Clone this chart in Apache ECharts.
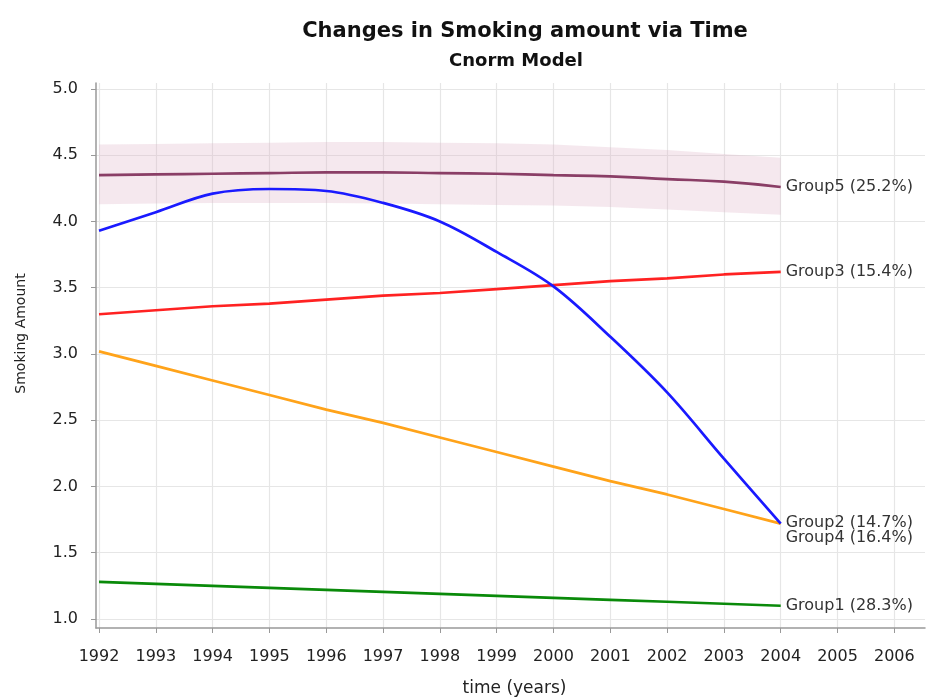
<!DOCTYPE html>
<html>
<head>
<meta charset="utf-8">
<script src="https://cdn.jsdelivr.net/npm/echarts@6/dist/echarts.min.js"></script>
<style>
  html, body { margin: 0; padding: 0; background: #fff; }
  #chart { width: 926px; height: 698px; }
</style>
</head>
<body>
<div id="chart"></div>
<script>
// values
const years = [1992, 1993, 1994, 1995, 1996, 1997, 1998, 1999, 2000, 2001, 2002, 2003, 2004];
const yearTicks = [1992, 1993, 1994, 1995, 1996, 1997, 1998, 1999, 2000, 2001, 2002, 2003, 2004, 2005, 2006];
const amountTicks = [1.0, 1.5, 2.0, 2.5, 3.0, 3.5, 4.0, 4.5, 5.0];

const group1 = [1.28, 1.265, 1.25, 1.235, 1.22, 1.205, 1.19, 1.175, 1.16, 1.145, 1.13, 1.115, 1.10];
const group2 = [3.02, 2.91, 2.80, 2.69, 2.58, 2.48, 2.37, 2.26, 2.15, 2.04, 1.94, 1.83, 1.72];
const group3 = [3.30, 3.33, 3.36, 3.38, 3.41, 3.44, 3.46, 3.49, 3.52, 3.55, 3.57, 3.60, 3.62];
const group4 = [3.93, 4.07, 4.21, 4.245, 4.23, 4.14, 4.00, 3.77, 3.51, 3.13, 2.71, 2.21, 1.72];
const group5 = [4.35, 4.355, 4.36, 4.365, 4.37, 4.37, 4.365, 4.36, 4.35, 4.34, 4.32, 4.30, 4.26];
const band5Low = [4.13, 4.135, 4.14, 4.14, 4.14, 4.135, 4.13, 4.125, 4.12, 4.11, 4.09, 4.07, 4.05];
const band5High = [4.58, 4.585, 4.59, 4.595, 4.60, 4.60, 4.595, 4.59, 4.58, 4.56, 4.54, 4.51, 4.48];

const names = ['Group1 (28.3%)', 'Group2 (14.7%)', 'Group3 (15.4%)', 'Group4 (16.4%)', 'Group5 (25.2%)'];

function pairs(arr) {
    return years.map(function (y, i) { return [y, arr[i]]; });
}

const font = 'DejaVu Sans';

function lineSeries(name, data, color, smooth, labelOffset) {
    return {
        name: name,
        type: 'line',
        data: pairs(data),
        smooth: smooth,
        symbol: 'none',
        lineStyle: { color: color, width: 2.7 },
        itemStyle: { color: color },
        z: 5,
        endLabel: {
            show: true,
            formatter: '{a}',
            color: '#333',
            fontFamily: font,
            fontSize: 16,
            distance: 5,
            offset: labelOffset || [0, 0]
        }
    };
}

// confidence band of Group5, drawn as one polygon through the axis scales
function renderBand(params, api) {
    if (params.dataIndex !== 0) return;
    const pts = [];
    for (let i = 0; i < years.length; i++) {
        pts.push(api.coord([years[i], band5High[i]]));
    }
    for (let i = years.length - 1; i >= 0; i--) {
        pts.push(api.coord([years[i], band5Low[i]]));
    }
    return {
        type: 'polygon',
        shape: { points: pts },
        style: { fill: 'rgba(222, 180, 200, 0.3)' },
        silent: true
    };
}

let myChart = echarts.init(document.getElementById('chart'));
myChart.setOption({
    animation: false,
    title: [{
        text: 'Changes in Smoking amount via Time',
        left: 520,
        top: 16,
        textAlign: 'center',
        textStyle: { fontFamily: font, fontSize: 21, fontWeight: 'bold', color: '#111' }
    }, {
        text: 'Cnorm Model',
        left: 511,
        top: 47,
        textAlign: 'center',
        textStyle: { fontFamily: font, fontSize: 18, fontWeight: 'bold', color: '#111' }
    }],
    grid: {
        left: 96,
        right: 1,
        top: 83,
        bottom: 70,
        outerBoundsMode: 'none'
    },
    xAxis: {
        type: 'value',
        min: 1991.947,
        max: 2006.54,
        name: 'time (years)',
        nameLocation: 'middle',
        nameGap: 52,
        nameTextStyle: { fontFamily: font, fontSize: 17, color: '#222', padding: [0, 0, 0, 8] },
        axisLine: { show: true, lineStyle: { color: '#999', width: 1.5 } },
        axisTick: { show: true, length: 5, lineStyle: { color: '#999' }, customValues: yearTicks },
        axisLabel: {
            customValues: yearTicks,
            margin: 21,
            fontFamily: font,
            fontSize: 16,
            color: '#222',
            formatter: function (v) { return String(v); }
        },
        splitLine: { show: true, lineStyle: { color: '#e6e6e6', width: 1.2 } }
    },
    yAxis: {
        type: 'value',
        min: 0.932,
        max: 5.045,
        name: 'Smoking Amount',
        nameLocation: 'middle',
        nameGap: 68,
        nameTextStyle: { fontFamily: font, fontSize: 14, color: '#222', padding: [0, 0, 0, 44] },
        axisLine: { show: true, lineStyle: { color: '#999', width: 1.5 } },
        axisTick: { show: true, length: 5, lineStyle: { color: '#999' }, customValues: amountTicks },
        axisLabel: {
            customValues: amountTicks,
            margin: 18,
            fontFamily: font,
            fontSize: 16,
            color: '#222',
            formatter: function (v) { return v.toFixed(1); }
        },
        splitLine: { show: true, lineStyle: { color: '#e6e6e6', width: 1.2 } }
    },
    series: [
        {
            name: 'band',
            type: 'custom',
            renderItem: renderBand,
            data: years.map(function (y, i) { return [y, band5Low[i], band5High[i]]; }),
            encode: { x: 0, y: [1, 2] },
            silent: true,
            z: 1
        },
        lineSeries(names[4], group5, '#8a3e66', true),
        lineSeries(names[2], group3, '#ff2222', false),
        lineSeries(names[1], group2, '#ffa31a', false, [0, -1]),
        lineSeries(names[3], group4, '#1a1aff', 0.35, [0, 14]),
        lineSeries(names[0], group1, '#0a8a0a', false)
    ]
});
</script>
</body>
</html>
